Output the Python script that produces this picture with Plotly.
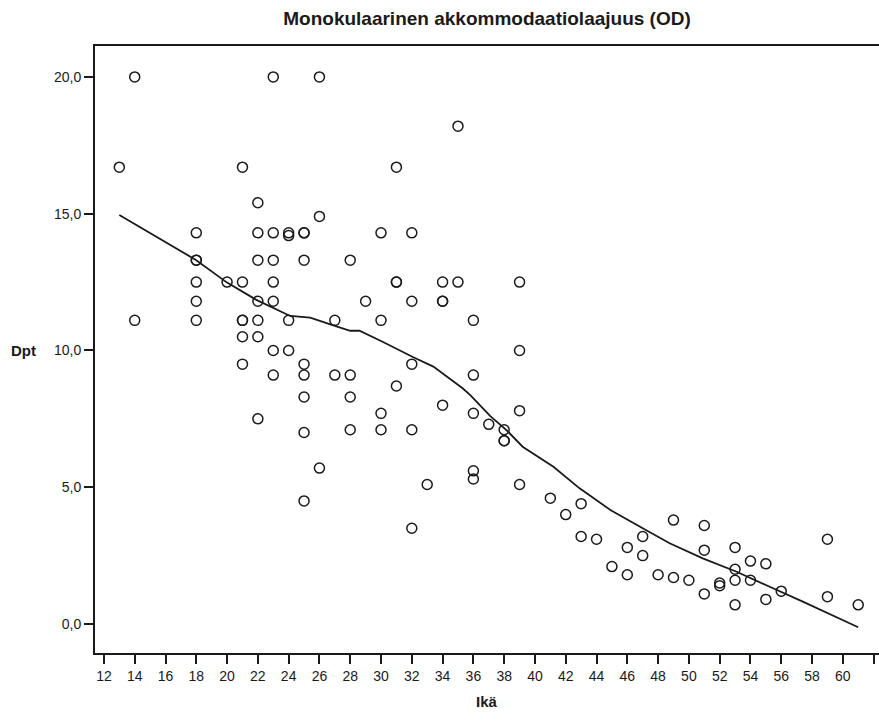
import plotly.graph_objects as go

# ---- data ----
ages = [13, 14, 14,
        18, 18, 18, 18, 18, 18,
        20,
        21, 21, 21, 21, 21, 21,
        22, 22, 22, 22, 22, 22, 22,
        23, 23, 23, 23, 23, 23, 23,
        24, 24, 24, 24,
        25, 25, 25, 25, 25, 25, 25, 25,
        26, 26, 26,
        27, 27,
        28, 28, 28, 28,
        29,
        30, 30, 30, 30,
        31, 31, 31, 31,
        32, 32, 32, 32, 32,
        33,
        34, 34, 34, 34,
        35, 35,
        36, 36, 36, 36, 36,
        37,
        38, 38, 38,
        39, 39, 39, 39,
        41, 42, 43, 43, 44, 45, 46, 46, 47, 47, 48, 49, 49, 50,
        51, 51, 51, 52, 52, 53, 53, 53, 53, 54, 54, 55, 55, 56,
        59, 59, 61]
dpt = [16.7, 20.0, 11.1,
       14.3, 13.3, 13.3, 12.5, 11.8, 11.1,
       12.5,
       16.7, 12.5, 11.1, 11.1, 10.5, 9.5,
       15.4, 14.3, 13.3, 11.8, 11.1, 10.5, 7.5,
       20.0, 14.3, 13.3, 12.5, 11.8, 10.0, 9.1,
       14.3, 14.2, 11.1, 10.0,
       14.3, 14.3, 13.3, 9.5, 9.1, 8.3, 7.0, 4.5,
       20.0, 14.9, 5.7,
       11.1, 9.1,
       13.3, 9.1, 8.3, 7.1,
       11.8,
       14.3, 11.1, 7.7, 7.1,
       16.7, 12.5, 12.5, 8.7,
       14.3, 11.8, 9.5, 7.1, 3.5,
       5.1,
       12.5, 11.8, 11.8, 8.0,
       18.2, 12.5,
       11.1, 9.1, 7.7, 5.6, 5.3,
       7.3,
       7.1, 6.7, 6.7,
       12.5, 10.0, 7.8, 5.1,
       4.6, 4.0, 4.4, 3.2, 3.1, 2.1, 2.8, 1.8, 3.2, 2.5, 1.8, 3.8, 1.7, 1.6,
       3.6, 2.7, 1.1, 1.5, 1.4, 2.8, 2.0, 1.6, 0.7, 2.3, 1.6, 2.2, 0.9, 1.2,
       3.1, 1.0, 0.7]

# loess fit line
fit_age = [13, 18, 20, 21.9, 24.1, 25.4, 27.0, 28.0, 28.6, 30.1, 32.1, 33.4,
           35.3, 35.8, 37.1, 38.15, 39.2, 41.2, 42.9, 44.9, 47.0, 48.75,
           50.9, 53.1, 55.25, 57.4, 61.0]
fit_dpt = [14.95, 13.3, 12.48, 11.85, 11.26, 11.2, 10.9, 10.72, 10.72, 10.32,
           9.75, 9.41, 8.62, 8.37, 7.6, 7.09, 6.48, 5.75, 4.96, 4.17, 3.5,
           2.95, 2.40, 1.91, 1.36, 0.82, -0.12]

x_ticks = list(range(12, 63, 2))
y_ticks = [0, 5, 10, 15, 20]
y_ticklabels = ["0,0", "5,0", "10,0", "15,0", "20,0"]

title_text = "Monokulaarinen akkommodaatiolaajuus (OD)"
x_title = "Ikä"
y_title = "Dpt"

FONT = "Liberation Sans, Arial, sans-serif"
INK = "#1a1a1a"

fig = go.Figure()
fig.add_trace(go.Scatter(
    x=ages, y=dpt, mode="markers",
    marker=dict(symbol="circle-open", size=10, color=INK, line=dict(width=1.5, color=INK)),
    showlegend=False, hoverinfo="x+y"))
fig.add_trace(go.Scatter(
    x=fit_age, y=fit_dpt, mode="lines",
    line=dict(color=INK, width=1.8),
    showlegend=False, hoverinfo="skip"))

fig.update_layout(
    width=879, height=722,
    margin=dict(l=95, r=0, t=46, b=69),
    paper_bgcolor="white", plot_bgcolor="white",
    font=dict(family=FONT, size=14, color=INK),
    title=dict(text="<b>" + title_text + "</b>", x=0.5, xref="paper",
               y=1 - 18 / 722, yref="container", yanchor="middle", xanchor="center",
               font=dict(family=FONT, size=19, color=INK)),
    xaxis=dict(range=[11.42, 62.35], tickmode="array", tickvals=x_ticks,
               ticktext=[str(v) for v in x_ticks],
               showgrid=False, zeroline=False, showline=True, linecolor=INK,
               linewidth=2, mirror=True, ticks="outside", ticklen=9, tickwidth=1.5,
               tickcolor=INK, tickfont=dict(family=FONT, size=14, color=INK)),
    yaxis=dict(range=[-1.06, 21.13], tickmode="array", tickvals=y_ticks,
               ticktext=y_ticklabels,
               showgrid=False, zeroline=False, showline=True, linecolor=INK,
               linewidth=2, ticks="outside", ticklen=9, tickwidth=1.5,
               tickcolor=INK, tickfont=dict(family=FONT, size=14, color=INK)),
    annotations=[
        dict(text="<b>" + y_title + "</b>", xref="paper", yref="y",
             x=(23 - 95) / 784, y=10, xanchor="center", yanchor="middle",
             showarrow=False, font=dict(family=FONT, size=15, color=INK)),
        dict(text="<b>" + x_title + "</b>", xref="paper", yref="paper",
             x=0.5, y=(653 - 701) / 607, xanchor="center", yanchor="middle",
             showarrow=False, font=dict(family=FONT, size=15, color=INK)),
    ],
)

fig.write_html("out.html",
               config={"displayModeBar": False},
               post_script="document.body.style.margin='0';document.body.style.overflow='hidden';")
